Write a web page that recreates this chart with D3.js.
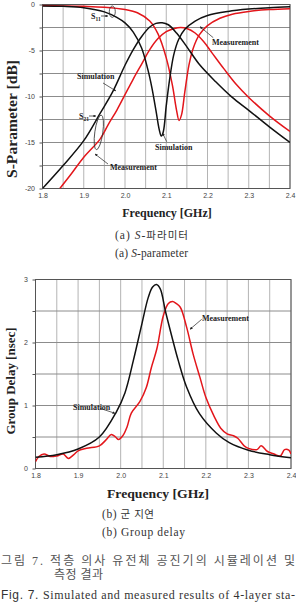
<!DOCTYPE html>
<html lang="ko">
<head>
<meta charset="UTF-8">
<script src="https://cdn.jsdelivr.net/npm/d3@7"></script>
<title>S-parameter and group delay</title>
<style>
  body { margin: 0; background: #fff; }
  svg text { font-family: "Liberation Serif", "Noto Sans CJK KR", serif; }
  .tick text { font-family: "Liberation Sans", Arial, sans-serif; font-size: 7px; fill: #444; }
  .tick line { stroke: #555; }
  .note { font-weight: bold; font-size: 8px; fill: #222; }
  .title { font-weight: bold; fill: #222; }
  .cap { fill: #333; }
</style>
</head>
<body>
<div id="chart"></div>
<script>
// ---- values ----
var freqTicks = [1.8, 1.9, 2.0, 2.1, 2.2, 2.3, 2.4];
var freqGrid = [1.8, 1.85, 1.9, 1.95, 2.0, 2.05, 2.1, 2.15, 2.2, 2.25, 2.3, 2.35, 2.4];
var sTicks = [0, -5, -10, -15, -20];
var sGrid = [0, -2.5, -5, -7.5, -10, -12.5, -15, -17.5, -20];
var gdTicks = [0, 1, 2, 3];
var gdGrid = [0, 0.5, 1, 1.5, 2, 2.5, 3];

// [GHz, dB]
var simS21 = [[1.80,-20.0],[1.85,-17.5],[1.90,-14.8],[1.94,-11.8],[1.97,-9.5],[2.00,-6.6],
  [2.02,-4.9],[2.04,-3.5],[2.06,-2.45],[2.075,-2.05],[2.09,-1.98],[2.105,-2.2],[2.125,-3.1],
  [2.15,-4.6],[2.18,-6.5],[2.22,-8.4],[2.26,-10.1],[2.30,-11.5],[2.35,-13.3],[2.40,-15.0]];
var simS11 = [[1.80,-0.15],[1.85,-0.2],[1.90,-0.35],[1.95,-0.8],[1.98,-1.4],[2.00,-2.0],
  [2.02,-3.0],[2.04,-4.7],[2.055,-7.0],[2.065,-9.0],[2.075,-11.5],[2.083,-13.6],[2.088,-14.3],
  [2.093,-13.8],[2.10,-11.0],[2.108,-8.2],[2.118,-5.5],[2.13,-3.8],[2.145,-2.7],[2.17,-1.8],
  [2.20,-1.2],[2.25,-0.75],[2.30,-0.5],[2.35,-0.35],[2.40,-0.25]];
var measS21 = [[1.842,-20.0],[1.87,-18.4],[1.90,-16.6],[1.94,-14.6],[1.96,-13.0],[1.98,-11.5],
  [2.00,-9.8],[2.02,-8.1],[2.04,-6.5],[2.06,-4.9],[2.08,-3.7],[2.10,-2.95],[2.12,-2.6],
  [2.135,-2.5],[2.15,-2.6],[2.17,-3.1],[2.19,-4.0],[2.21,-5.2],[2.24,-7.0],[2.27,-8.7],
  [2.30,-10.1],[2.35,-12.1],[2.40,-13.8]];
var measS11 = [[1.80,-0.12],[1.85,-0.15],[1.90,-0.2],[1.95,-0.3],[2.00,-0.55],[2.03,-0.9],
  [2.06,-1.8],[2.08,-3.2],[2.10,-5.8],[2.115,-8.8],[2.125,-11.5],[2.131,-12.6],[2.137,-12.0],
  [2.145,-9.5],[2.155,-6.6],[2.165,-4.8],[2.18,-3.3],[2.20,-2.3],[2.23,-1.5],[2.26,-1.05],
  [2.30,-0.75],[2.35,-0.55],[2.40,-0.45]];

// [GHz, nsec]
var simGD = [[1.80,0.18],[1.85,0.22],[1.90,0.31],[1.95,0.50],[1.99,0.90],[2.01,1.2],[2.03,1.72],
  [2.05,2.3],[2.065,2.72],[2.075,2.88],[2.084,2.92],[2.093,2.85],[2.105,2.5],[2.12,2.1],
  [2.135,1.72],[2.155,1.29],[2.185,0.87],[2.225,0.56],[2.255,0.41],[2.30,0.29],[2.35,0.22],[2.40,0.17]];
var measGD = [[1.80,0.11],[1.808,0.19],[1.82,0.23],[1.835,0.19],[1.85,0.20],[1.865,0.23],
  [1.877,0.16],[1.89,0.22],[1.90,0.28],[1.92,0.32],[1.95,0.36],[1.965,0.45],[1.978,0.54],
  [1.988,0.50],[1.995,0.46],[2.005,0.52],[2.015,0.66],[2.025,0.88],[2.045,1.06],[2.06,1.28],
  [2.072,1.60],[2.085,1.90],[2.10,2.42],[2.112,2.62],[2.122,2.65],[2.13,2.62],[2.14,2.56],
  [2.155,2.24],[2.17,1.82],[2.186,1.45],[2.20,1.13],[2.22,0.82],[2.235,0.64],[2.25,0.55],
  [2.265,0.52],[2.275,0.48],[2.29,0.36],[2.30,0.32],[2.32,0.30],[2.33,0.36],[2.345,0.27],
  [2.36,0.23],[2.375,0.20],[2.385,0.30],[2.395,0.29],[2.40,0.23]];

var BLACK = "#111", RED = "#e3161b";

var svg = d3.select("#chart").append("svg")
    .attr("width", 296).attr("height", 607);
svg.append("rect").attr("width", 296).attr("height", 607).attr("fill", "#fff");

var defs = svg.append("defs");
defs.append("marker").attr("id", "arr")
    .attr("viewBox", "0 0 6 6").attr("refX", 5.5).attr("refY", 3)
    .attr("markerWidth", 4).attr("markerHeight", 4).attr("orient", "auto")
  .append("path").attr("d", "M0,0L6,3L0,6z").attr("fill", "#222");

// draws grid, frame and axes of one panel
function panel(id, x, y, yGrid, yTicks) {
    var g = svg.append("g");
    var xr = x.range(), yr = y.range();

    defs.append("clipPath").attr("id", id)
      .append("rect").attr("x", xr[0]).attr("y", yr[1])
      .attr("width", xr[1] - xr[0]).attr("height", yr[0] - yr[1]);

    g.selectAll(".vg").data(freqGrid).join("line")
        .attr("x1", d => x(d)).attr("x2", d => x(d))
        .attr("y1", yr[0]).attr("y2", yr[1])
        .attr("stroke", "#b4b4b4").attr("stroke-width", 1);
    g.selectAll(".hg").data(yGrid).join("line")
        .attr("x1", xr[0]).attr("x2", xr[1])
        .attr("y1", d => y(d)).attr("y2", d => y(d))
        .attr("stroke", "#8c8c8c").attr("stroke-width", 1);
    g.append("rect")
        .attr("x", xr[0]).attr("y", yr[1])
        .attr("width", xr[1] - xr[0]).attr("height", yr[0] - yr[1])
        .attr("fill", "none").attr("stroke", "#555").attr("stroke-width", 1);

    var ya = g.append("g").attr("transform", "translate(" + xr[0] + ",0)")
        .call(d3.axisLeft(y).tickValues(yGrid).tickSize(3).tickPadding(4.5)
            .tickFormat(d => yTicks.indexOf(d) >= 0 ? d : ""));
    ya.select(".domain").remove();

    var xa = g.append("g").attr("transform", "translate(0," + yr[0] + ")")
        .call(d3.axisBottom(x).tickValues(freqTicks).tickSize(0).tickPadding(5)
            .tickFormat(d3.format(".1f")));
    xa.select(".domain").remove();
    return g;
}

function curve(g, id, x, y, data, color) {
    var line = d3.line().x(d => x(d[0])).y(d => y(d[1]))
        .curve(d3.curveCatmullRom.alpha(0.5));
    g.append("path").datum(data)
        .attr("clip-path", "url(#" + id + ")")
        .attr("d", line)
        .attr("fill", "none").attr("stroke", color)
        .attr("stroke-width", 1.5).attr("stroke-linejoin", "round");
}

function leader(g, x1, y1, x2, y2) {
    g.append("line").attr("x1", x1).attr("y1", y1).attr("x2", x2).attr("y2", y2)
        .attr("stroke", "#222").attr("stroke-width", 0.7).attr("marker-end", "url(#arr)");
}

function note(g, px, py, txt, sub) {
    var t = g.append("text").attr("class", "note").attr("x", px).attr("y", py).text(txt);
    if (sub) t.append("tspan").attr("font-size", "5.5px").attr("dy", 1.5).text(sub);
}

// ---- (a) S-parameter ----
var xS = d3.scaleLinear().domain([1.8, 2.4]).range([42.5, 290]);
var yS = d3.scaleLinear().domain([-20, 0]).range([188.5, 4.5]);
var gS = panel("clipS", xS, yS, sGrid, sTicks);
curve(gS, "clipS", xS, yS, measS11, RED);
curve(gS, "clipS", xS, yS, measS21, RED);
curve(gS, "clipS", xS, yS, simS11, BLACK);
curve(gS, "clipS", xS, yS, simS21, BLACK);

// annotations
note(gS, xS(1.9176), yS(-1.58), "S", "11");
leader(gS, xS(1.9418), yS(-1.25), xS(1.9588), yS(-1.25));
gS.append("ellipse").attr("cx", xS(1.9692)).attr("cy", yS(-0.78))
    .attr("rx", 3).attr("ry", 5.7).attr("fill", "none").attr("stroke", "#333").attr("stroke-width", 0.8);
note(gS, xS(1.8885), yS(-12.45), "S", "21");
leader(gS, xS(1.9127), yS(-12.12), xS(1.9297), yS(-12.12));
gS.append("ellipse").attr("cx", xS(1.9365)).attr("cy", yS(-13.9))
    .attr("rx", 4).attr("ry", 17.5).attr("fill", "none").attr("stroke", "#333").attr("stroke-width", 0.8)
    .attr("transform", "rotate(8," + xS(1.9365) + "," + yS(-13.9) + ")");
note(gS, xS(1.8836), yS(-8.1), "Simulation");
leader(gS, xS(1.9467), yS(-8.53), xS(1.978), yS(-9.4));
note(gS, xS(1.9636), yS(-17.99), "Measurement");
leader(gS, xS(1.9588), yS(-17.34), xS(1.9273), yS(-16.25));
note(gS, xS(2.0727), yS(-15.8), "Simulation");
leader(gS, xS(2.101), yS(-14.91), xS(2.0914), yS(-14.0));
note(gS, xS(2.2109), yS(-4.4), "Measurement");
leader(gS, xS(2.214), yS(-3.61), xS(2.1818), yS(-2.41));

svg.append("text").attr("class", "title")
    .attr("transform", "translate(17,119) rotate(-90)")
    .attr("text-anchor", "middle").attr("font-size", "14px")
    .attr("textLength", 118).attr("lengthAdjust", "spacingAndGlyphs")
    .text("S-Parameter [dB]");
svg.append("text").attr("class", "title")
    .attr("x", 167).attr("y", 217).attr("text-anchor", "middle")
    .attr("font-size", "12px").text("Frequency [GHz]");

var capA1 = svg.append("text").attr("class", "cap").attr("x", 115).attr("y", 239)
    .attr("font-size", "11.5px").attr("textLength", 73).attr("lengthAdjust", "spacing");
capA1.append("tspan").text("(a) ");
capA1.append("tspan").attr("font-style", "italic").text("S");
capA1.append("tspan").text("-");
capA1.append("tspan").attr("font-family", "Noto Sans CJK KR").attr("font-size", "10.5px").text("파라미터");
var capA2 = svg.append("text").attr("class", "cap").attr("x", 115).attr("y", 257)
    .attr("font-size", "11.5px").attr("textLength", 73).attr("lengthAdjust", "spacing");
capA2.append("tspan").text("(a) ");
capA2.append("tspan").attr("font-style", "italic").text("S");
capA2.append("tspan").text("-parameter");

// ---- (b) group delay ----
var xG = d3.scaleLinear().domain([1.8, 2.4]).range([35.5, 291]);
var yG = d3.scaleLinear().domain([0, 3]).range([468.5, 279.5]);
var gG = panel("clipG", xG, yG, gdGrid, gdTicks);
curve(gG, "clipG", xG, yG, measGD, RED);
curve(gG, "clipG", xG, yG, simGD, BLACK);

note(gG, xG(2.191), yG(2.34), "Measurement");
leader(gG, xG(2.1903), yG(2.368), xG(2.1628), yG(2.21));
note(gG, xG(1.888), yG(0.93), "Simulation");
leader(gG, xG(1.9515), yG(0.955), xG(1.9867), yG(0.876));

svg.append("text").attr("class", "title")
    .attr("transform", "translate(15,381) rotate(-90)")
    .attr("text-anchor", "middle").attr("font-size", "13px")
    .attr("textLength", 107).attr("lengthAdjust", "spacingAndGlyphs")
    .text("Group Delay [nsec]");
svg.append("text").attr("class", "title")
    .attr("x", 158).attr("y", 498).attr("text-anchor", "middle")
    .attr("font-size", "13px").attr("textLength", 102).attr("lengthAdjust", "spacingAndGlyphs")
    .text("Frequency [GHz]");

var capB1 = svg.append("text").attr("class", "cap").attr("x", 102).attr("y", 518)
    .attr("font-size", "11.5px").attr("textLength", 52).attr("lengthAdjust", "spacing");
capB1.append("tspan").text("(b) ");
capB1.append("tspan").attr("font-family", "Noto Sans CJK KR").attr("font-size", "10.5px").text("군 지연");
svg.append("text").attr("class", "cap").attr("x", 102).attr("y", 536)
    .attr("font-size", "11.5px").attr("textLength", 83).attr("lengthAdjust", "spacing")
    .text("(b) Group delay");

// ---- figure caption ----
svg.append("text").attr("x", 1).attr("y", 565)
    .attr("font-family", "Noto Sans CJK KR").attr("font-size", "12px").attr("fill", "#555")
    .attr("textLength", 294).attr("lengthAdjust", "spacing")
    .text("그림 7. 적층 의사 유전체 공진기의 시뮬레이션 및");
svg.append("text").attr("x", 54).attr("y", 579)
    .attr("font-family", "Noto Sans CJK KR").attr("font-size", "12px").attr("fill", "#555")
    .attr("textLength", 49).attr("lengthAdjust", "spacing")
    .text("측정 결과");
var fig = svg.append("text").attr("x", 1).attr("y", 599)
    .attr("font-size", "12px").attr("fill", "#333")
    .attr("textLength", 294).attr("lengthAdjust", "spacing");
fig.append("tspan").attr("font-family", "Liberation Sans").text("Fig. 7. ");
fig.append("tspan").text("Simulated and measured results of 4-layer sta-");
</script>
</body>
</html>
